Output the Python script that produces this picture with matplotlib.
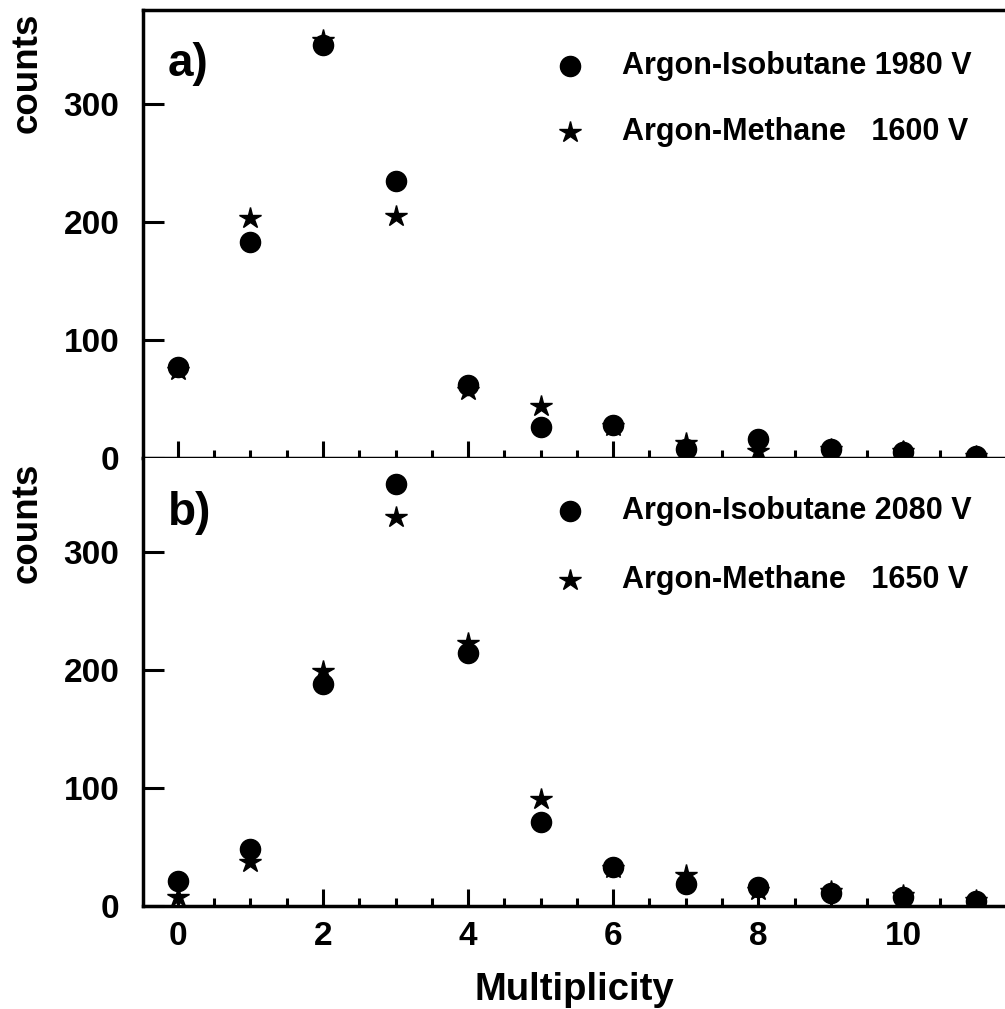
import numpy as np
import matplotlib.pyplot as plt

plt.rcParams['font.family'] = ['Liberation Sans', 'DejaVu Sans']
plt.rcParams['font.weight'] = 'bold'

# multiplicity values
mult = np.arange(0, 12)

# panel a)  Argon-Isobutane 1980 V / Argon-Methane 1600 V
iso_a = [77, 183, 350, 235, 62, 26, 28, 8, 16, 8, 5, 2]
met_a = [75, 204, 355, 205, 58, 44, 27, 13, 6, 8, 6, 2]
# panel b)  Argon-Isobutane 2080 V / Argon-Methane 1650 V
iso_b = [21, 48, 188, 358, 215, 71, 33, 19, 16, 11, 8, 4]
met_b = [8, 37, 199, 330, 223, 91, 32, 26, 14, 13, 9, 5]

labels_a = ['Argon-Isobutane 1980 V', 'Argon-Methane   1600 V']
labels_b = ['Argon-Isobutane 2080 V', 'Argon-Methane   1650 V']

fig = plt.figure(figsize=(10.05, 10.09), dpi=100)
ax1 = fig.add_axes([0.1423, 0.546, 0.8577, 0.444])
ax2 = fig.add_axes([0.1423, 0.102, 0.8577, 0.444])


def style(ax, show_xlabels):
    ax.set_xlim(-0.48, 11.4)
    ax.set_ylim(0, 380)
    ax.set_xticks([0, 2, 4, 6, 8, 10])
    ax.set_xticks(np.arange(0, 11.5, 0.5), minor=True)
    ax.set_yticks([0, 100, 200, 300])
    ax.tick_params(axis='both', which='major', direction='in', width=2.2,
                   labelsize=24, top=False, right=False)
    ax.tick_params(axis='x', which='major', length=12, pad=11,
                   labelbottom=show_xlabels)
    ax.tick_params(axis='y', which='major', length=15, pad=17)
    ax.tick_params(axis='x', which='minor', direction='in', length=6, width=2.2)
    ax.spines['right'].set_visible(False)
    for s in ['left', 'bottom', 'top']:
        ax.spines[s].set_linewidth(2.5)
    for t in ax.get_xticklabels() + ax.get_yticklabels():
        t.set_fontweight('bold')


def panel(ax, iso, met, labels, tag, tag_y, rows):
    ax.plot(mult, met, linestyle='none', marker='*', ms=16, color='black', zorder=3)
    ax.plot(mult, iso, linestyle='none', marker='o', ms=14.5, color='black', zorder=4)
    ax.text(0.029, tag_y, tag, transform=ax.transAxes, fontsize=33,
            fontweight='bold', va='center', ha='left')
    for mk, ms, lab, y in zip(['o', '*'], [14.5, 16], labels, rows):
        ax.plot([0.495], [y], transform=ax.transAxes, marker=mk, ms=ms,
                color='black', linestyle='none', clip_on=False)
        ax.text(0.556, y, lab, transform=ax.transAxes, fontsize=22,
                fontweight='bold', va='center', ha='left')


style(ax1, False)
style(ax2, True)
ax2.spines['top'].set_visible(False)

panel(ax1, iso_a, met_a, labels_a, 'a)', 0.88, [0.875, 0.728])
panel(ax2, iso_b, met_b, labels_b, 'b)', 0.877, [0.882, 0.728])

ax2.set_xlabel('Multiplicity', fontsize=27.5, fontweight='bold', labelpad=14)

fig.text(0.027, 0.928, 'counts', rotation=90, fontsize=26.5, fontweight='bold',
         ha='center', va='center')
fig.text(0.027, 0.482, 'counts', rotation=90, fontsize=26.5, fontweight='bold',
         ha='center', va='center')

fig.savefig('out.png', dpi=100)
